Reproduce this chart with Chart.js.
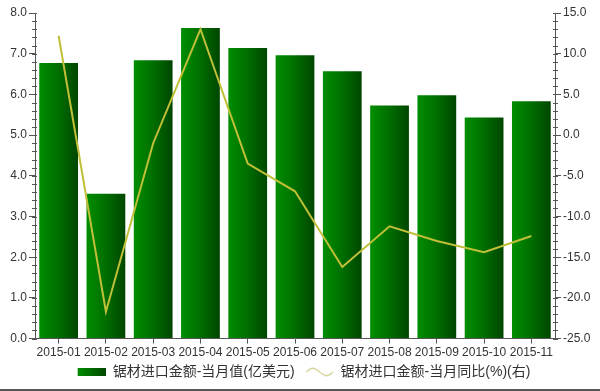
<!DOCTYPE html>
<html>
<head>
<meta charset="utf-8">
<script src="https://cdn.jsdelivr.net/npm/chart.js@4/dist/chart.umd.min.js"></script>
<style>
  html, body { margin: 0; padding: 0; background: #fff; }
  #wrap { width: 600px; height: 389px; border-bottom: 2px solid #555; position: relative; }
</style>
</head>
<body>
<div id="wrap"><canvas id="c" width="600" height="389"></canvas></div>
<script>
// 数据
const months = ['2015-01', '2015-02', '2015-03', '2015-04', '2015-05', '2015-06', '2015-07', '2015-08', '2015-09', '2015-10', '2015-11'];
const monthValue = [6.77, 3.56, 6.84, 7.63, 7.14, 6.96, 6.57, 5.73, 5.98, 5.43, 5.83];
const monthYoY = [12.2, -21.7, -1.0, 13.0, -3.5, -6.9, -16.2, -11.2, -13.0, -14.4, -12.4];
const leftTicks = [0, 8, 1];
const rightTicks = [-25, 15, 5];
const barLabel = '锯材进口金额-当月值(亿美元)';
const lineLabel = '锯材进口金额-当月同比(%)(右)';

const canvas = document.getElementById('c');
const context = canvas.getContext('2d');
const barPct = 0.82;
const iconW = 36;

// 图例图标 (左侧留白, 拉开两项间距)
const barIcon = document.createElement('canvas');
barIcon.width = iconW; barIcon.height = 8;
{
  let g = barIcon.getContext('2d');
  let gr = g.createLinearGradient(iconW - 28, 0, iconW, 0);
  gr.addColorStop(0, '#008c00');
  gr.addColorStop(1, '#004800');
  g.fillStyle = gr;
  g.fillRect(iconW - 28, 0, 28, 8);
}
const waveIcon = document.createElement('canvas');
waveIcon.width = iconW; waveIcon.height = 10;
{
  let g = waveIcon.getContext('2d');
  let o = iconW - 28;
  g.strokeStyle = '#d6d6a0';
  g.lineWidth = 1.5;
  g.beginPath();
  g.moveTo(o + 1, 5);
  g.bezierCurveTo(o + 6, -1, o + 9, 1, o + 14, 5);
  g.bezierCurveTo(o + 19, 9, o + 22, 11, o + 27, 5);
  g.stroke();
}

const barFill = (ctx) => {
  const chart = ctx.chart;
  const x = chart.scales.x;
  if (!x || !chart.chartArea) return '#006a00';
  const cx = x.getPixelForValue(ctx.dataIndex);
  const half = (x.width / months.length) * barPct / 2;
  const gr = chart.ctx.createLinearGradient(cx - half, 0, cx + half, 0);
  gr.addColorStop(0, '#008e00');
  gr.addColorStop(0.5, '#006e00');
  gr.addColorStop(1, '#004600');
  return gr;
};

// 次刻度
const minorTicks = {
  id: 'minorTicks',
  afterDraw(chart) {
    const c = chart.ctx;
    c.save();
    c.strokeStyle = '#555';
    c.lineWidth = 1;
    const y = chart.scales.y;
    for (let v = 0; v <= 8.001; v += 0.2) {
      const p = Math.round(y.getPixelForValue(v)) + 0.5;
      c.beginPath(); c.moveTo(y.right - 3, p); c.lineTo(y.right + 2, p); c.stroke();
    }
    const y1 = chart.scales.y1;
    for (let v = -25; v <= 15; v += 1) {
      const p = Math.round(y1.getPixelForValue(v)) + 0.5;
      c.beginPath(); c.moveTo(y1.left - 2, p); c.lineTo(y1.left + 3, p); c.stroke();
    }
    c.restore();
  }
};

const tickFont = { family: '"Liberation Sans", Arial, sans-serif', size: 12 };

new Chart(context, {
  type: 'bar',
  data: {
    labels: months,
    datasets: [{
      type: 'line',
      label: lineLabel,
      data: monthYoY,
      yAxisID: 'y1',
      borderColor: '#bfbf38',
      borderWidth: 2,
      pointRadius: 0,
      tension: 0,
      pointStyle: waveIcon,
      order: 0
    }, {
      type: 'bar',
      label: barLabel,
      data: monthValue,
      yAxisID: 'y',
      backgroundColor: barFill,
      barPercentage: barPct,
      categoryPercentage: 1,
      pointStyle: barIcon,
      order: 1
    }]
  },
  options: {
    responsive: false,
    animation: false,
    layout: { padding: { top: 13, right: 0, left: 0, bottom: 0 } },
    plugins: {
      legend: {
        position: 'bottom',
        reverse: true,
        labels: {
          usePointStyle: true,
          pointStyleWidth: iconW,
          padding: 3,
          color: '#333',
          font: { family: '"Liberation Sans", "Noto Sans CJK SC", sans-serif', size: 14 },
          generateLabels(chart) {
            const items = Chart.defaults.plugins.legend.labels.generateLabels(chart);
            items.forEach(it => { it.pointStyle = it.datasetIndex === 0 ? waveIcon : barIcon; });
            return items;
          }
        }
      },
      tooltip: { enabled: false }
    },
    scales: {
      x: {
        offset: true,
        grid: { offset: false, drawOnChartArea: false, tickLength: 5, tickColor: '#555' },
        border: { color: '#555' },
        ticks: { color: '#333', font: tickFont, maxRotation: 0, autoSkip: false, padding: 2 }
      },
      y: {
        position: 'left',
        min: leftTicks[0], max: leftTicks[1],
        grid: { drawOnChartArea: false, tickLength: 6, tickColor: '#555' },
        border: { color: '#555' },
        ticks: { stepSize: leftTicks[2], color: '#333', font: tickFont, padding: 2,
          callback: v => v.toFixed(1) },
        afterFit: s => { s.width = 35; }
      },
      y1: {
        position: 'right',
        min: rightTicks[0], max: rightTicks[1],
        grid: { drawOnChartArea: false, tickLength: 6, tickColor: '#555' },
        border: { color: '#555' },
        ticks: { stepSize: rightTicks[2], color: '#333', font: tickFont, padding: 2,
          callback: v => v.toFixed(1) },
        afterFit: s => { s.width = 45; }
      }
    }
  },
  plugins: [minorTicks]
});
</script>
</body>
</html>
